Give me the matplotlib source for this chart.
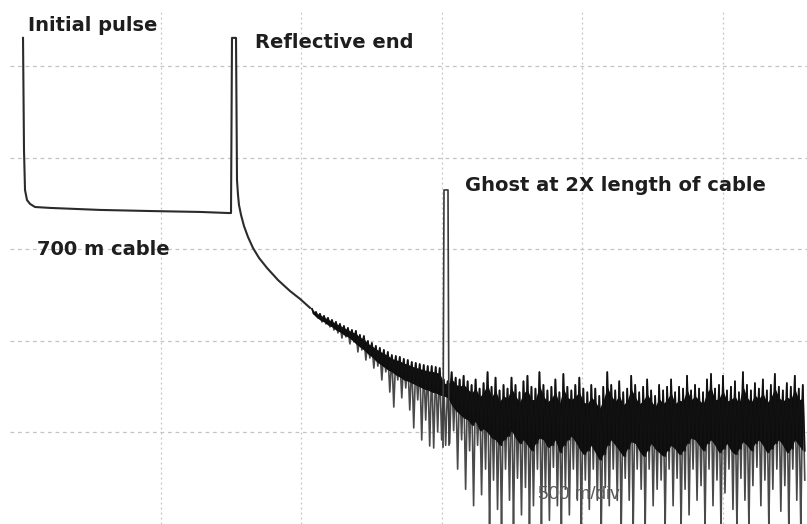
import numpy as np
import matplotlib
matplotlib.use("Agg")
import matplotlib.pyplot as plt

# ---- smooth part of the OTDR trace: distance (m) and level (dB) ----
trace_m = [10.7, 14.2, 17.8, 24.9, 35.6, 53.4, 106.8, 284.7, 462.6, 640.6,
           743.8, 750.9, 754.4, 768.7, 772.2, 775.8, 779.3, 786.5, 797.1,
           811.4, 829.2, 850.5, 879.0, 918.1, 960.8, 996.4, 1032.0]
trace_db = [26.56, 20.44, 18.25, 17.70, 17.49, 17.32, 17.27, 17.16, 17.10, 17.05,
            16.99, 16.99, 26.56, 26.56, 18.80, 17.98, 17.43, 16.89, 16.28,
            15.68, 15.08, 14.54, 13.99, 13.33, 12.73, 12.30, 11.81]

# ---- ghost reflection at twice the cable length ----
ghost_m = [1505.3, 1508.9, 1523.1, 1526.7]
ghost_db = [4.21, 18.25, 18.25, 4.32]

# ---- noisy part of the trace, sampled every noise_step_m from noise_start_m ----
noise_start_m = 1039.1
noise_step_m = 14.2
noise_top = [11.75, 11.58, 11.48, 11.37, 11.26, 11.15, 11.04, 10.93, 10.82, 10.71,
             10.60, 10.55, 10.33, 10.27, 10.00, 9.89, 9.73, 9.62, 9.51, 9.40,
             9.23, 9.18, 9.13, 9.02, 8.96, 8.85, 8.80, 8.74, 8.69, 8.63,
             8.63, 8.58, 8.52,
             7.9, 7.8, 8.3, 8.0, 7.9, 8.1, 7.8, 7.6, 7.9, 7.4,
             7.7, 8.3, 7.5, 8.0, 7.3, 7.6, 7.4, 8.0, 7.6, 7.2,
             7.8, 8.1, 7.5, 7.4, 8.3, 7.6, 7.3, 7.5, 7.9, 7.2,
             8.2, 7.5, 7.3, 7.6, 8.0, 7.4, 7.2, 7.6, 7.4, 7.0,
             7.5, 8.3, 7.6, 7.3, 7.8, 7.2, 7.4, 8.1, 7.6, 7.2,
             7.5, 7.9, 7.3, 7.0, 7.6, 7.3, 7.5, 7.9, 7.2, 7.5,
             7.4, 8.1, 7.3, 7.6, 7.4, 7.2, 7.9, 8.2, 7.4, 7.6,
             8.1, 7.3, 7.5, 7.8, 7.2, 8.3, 7.6, 7.3, 7.7, 7.4,
             7.9, 7.3, 7.6, 8.2, 7.5, 7.3, 7.7, 7.5, 8.1, 7.4,
             7.6]
noise_core = [11.53, 11.31, 11.15, 11.04, 10.87, 10.77, 10.60, 10.49, 10.33, 10.22,
              10.05, 9.84, 9.67, 9.51, 9.29, 9.13, 8.91, 8.74, 8.58, 8.42,
              8.31, 8.14, 8.03, 7.87, 7.81, 7.70, 7.60, 7.49, 7.38, 7.32,
              7.21, 7.16, 7.05,
              7.0, 6.9, 6.5, 6.2, 6.0, 5.8, 5.7, 5.4, 5.6, 5.1,
              5.2, 5.0, 4.7, 4.6, 4.3, 4.6, 4.8, 5.1, 4.7, 4.4,
              4.6, 4.3, 4.0, 4.4, 4.7, 4.6, 4.2, 4.3, 4.6, 3.9,
              4.3, 4.6, 4.8, 4.5, 4.1, 3.8, 4.0, 4.3, 3.9, 3.5,
              3.8, 4.3, 4.6, 4.3, 4.0, 3.7, 4.1, 4.5, 4.4, 4.0,
              3.7, 4.0, 4.4, 4.1, 3.9, 3.7, 4.0, 4.3, 4.1, 3.8,
              4.0, 4.4, 4.7, 4.6, 4.3, 4.0, 4.4, 4.6, 4.3, 3.9,
              4.1, 4.4, 4.0, 3.8, 4.1, 4.5, 4.3, 4.0, 4.4, 4.6,
              4.3, 3.9, 4.1, 4.4, 4.6, 4.3, 3.9, 4.1, 4.6, 4.3,
              4.0]
noise_low = [11.48, 11.26, 11.04, 10.93, 10.77, 10.60, 10.44, 10.16, 10.22, 9.84,
             9.95, 9.40, 9.51, 8.96, 9.07, 8.52, 8.63, 7.87, 8.31, 7.21,
             6.39, 7.87, 6.89, 7.43, 6.23, 5.25, 6.78, 4.59, 5.68, 4.26,
             4.15, 5.03, 4.59,
             4.3, 4.4, 5.1, 3.0, 4.6, 1.9, 4.0, 1.0, 4.3, 1.6,
             3.0, -0.2, 2.4, 0.8, -0.2, 3.0, 1.3, -0.2, 2.5, 0.5,
             2.0, -0.2, 1.0, 3.0, -0.2, 1.7, 0.2, 3.1, 1.0, -0.2,
             1.9, 0.5, 3.0, 1.3, -0.2, 2.4, 0.8, 3.0, 1.3, -0.2,
             2.0, 1.0, 3.0, 1.3, -0.2, 2.5, 1.3, -0.2, 3.0, 1.9,
             -0.2, 3.0, 1.0, 1.9, 2.4, -0.2, 3.0, 1.0, 2.5, -0.2,
             1.9, 0.5, 3.0, 1.3, 2.1, -0.2, 3.0, 1.0, 2.4, -0.2,
             1.7, 3.0, 0.8, -0.2, 2.5, 1.3, -0.2, 2.1, 3.1, 1.0,
             2.4, -0.2, 1.9, 3.0, 0.7, 2.1, -0.2, 3.0, 1.3, -0.2,
             2.4]

grid_x_m = [500, 1000, 1500, 2000, 2500]
grid_y_db = [5, 10, 15, 20, 25]

# ---- figure ----
fig = plt.figure(figsize=(8.07, 5.24), dpi=100)
ax = fig.add_axes([0, 0, 1, 1])
ax.set_xlim(-71.2, 2800.7)
ax.set_ylim(0, 28.63)
ax.axis("off")

grid_col = "#c4c4c4"
for gx in grid_x_m:
    ax.plot([gx, gx], [0, 28.1], color=grid_col, lw=0.9,
            linestyle=(0, (1.5, 2.5)), zorder=1)
for gy in grid_y_db:
    ax.plot([-35.6, 2800.7], [gy, gy], color=grid_col, lw=0.9,
            linestyle=(0, (3, 3)), zorder=1)

ax.plot(trace_m, trace_db, color="#2b2b2b", lw=1.5, zorder=3,
        solid_joinstyle="round")

n = len(noise_top)
xs = noise_start_m + noise_step_m * np.arange(n)
top = np.array(noise_top)
core = np.array(noise_core)
low = np.array(noise_low)

zx = np.empty(2 * n)
zx[0::2] = xs
zx[1::2] = xs + noise_step_m / 2
gray_y = np.empty(2 * n)
gray_y[0::2] = top
gray_y[1::2] = low
black_y = np.empty(2 * n)
black_y[0::2] = top
black_y[1::2] = core

ax.plot(zx, gray_y, color="#4a4a4a", lw=1.2, zorder=3)
# dense black core of the noise
ax.fill_between(xs, 0.8 * top + 0.2 * core, core,
                color="#0d0d0d", lw=0, zorder=4)
ax.plot(zx, black_y, color="#111111", lw=1.2, zorder=4)

ax.plot(ghost_m, ghost_db, color="#3a3a3a", lw=1.2, zorder=5)

W, H = 807.0, 524.0
font = dict(family=["DejaVu Sans"], weight="bold",
            size=14, color="#1e1e1e")
ax.text(28 / W, 1 - 31 / H, "Initial pulse", transform=ax.transAxes,
        va="baseline", ha="left", **font)
ax.text(255 / W, 1 - 48 / H, "Reflective end", transform=ax.transAxes,
        va="baseline", ha="left", **font)
ax.text(465 / W, 1 - 191 / H, "Ghost at 2X length of cable",
        transform=ax.transAxes, va="baseline", ha="left", **font)
ax.text(37 / W, 1 - 255 / H, "700 m cable", transform=ax.transAxes,
        va="baseline", ha="left", **font)
ax.text(538 / W, 1 - 499 / H, "500 m/div", transform=ax.transAxes,
        va="baseline", ha="left", family=["Liberation Sans", "DejaVu Sans"],
        size=13.5, color="#5a5a5a", zorder=6)

fig.savefig("out.png", dpi=100)
